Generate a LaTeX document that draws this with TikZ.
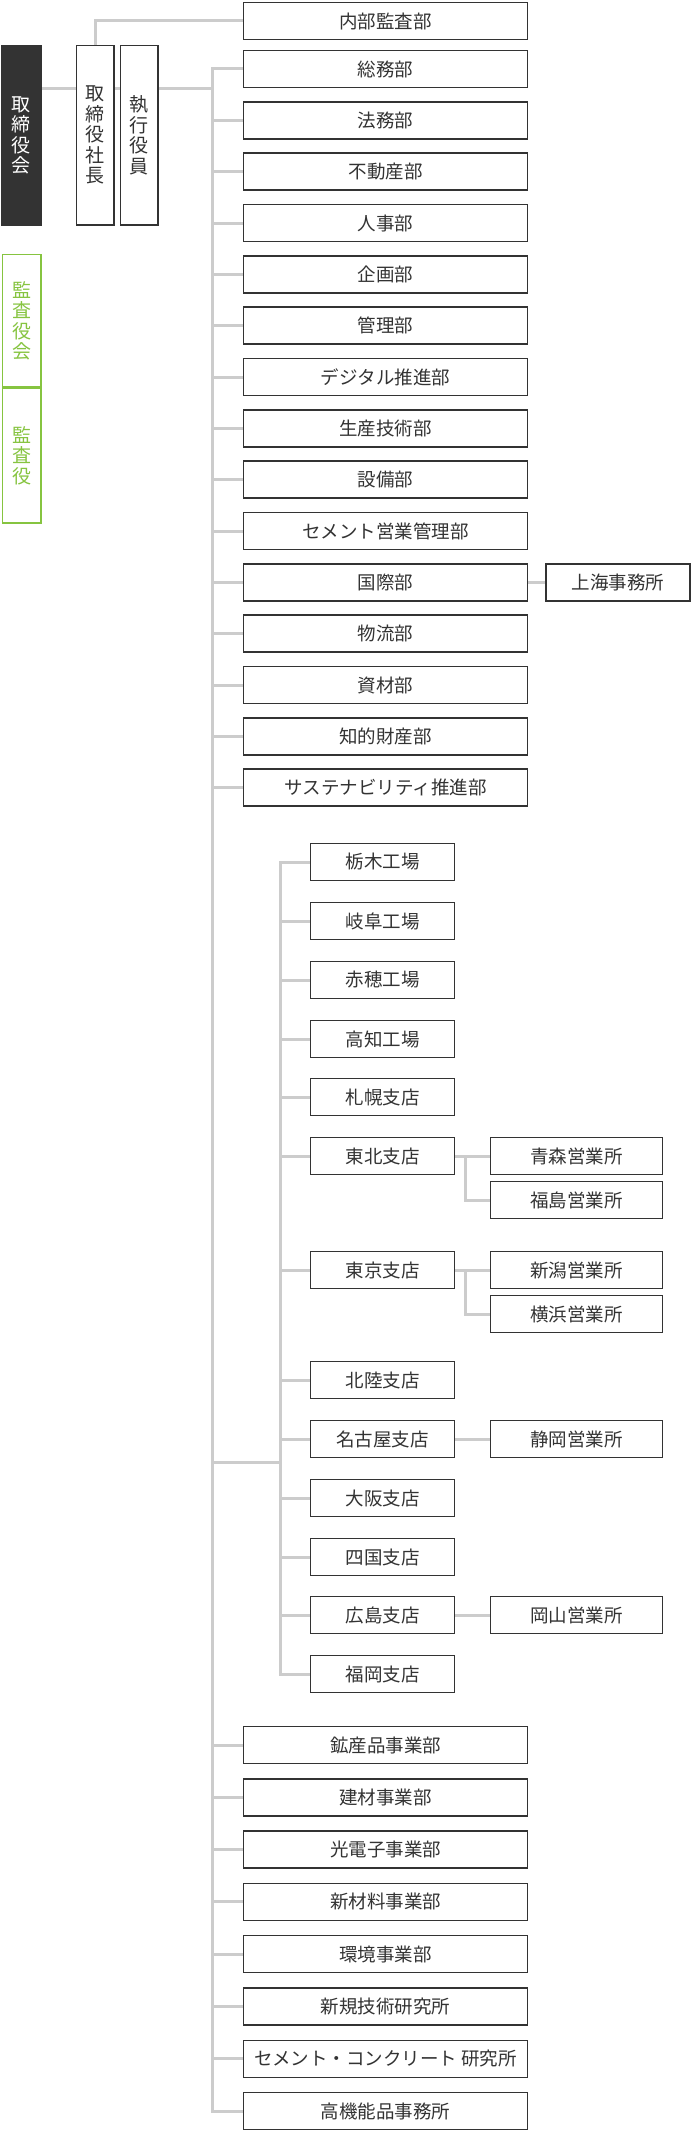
\documentclass[tikz,border=0pt]{standalone}
\usepackage{fontspec}
\setmainfont{Noto Sans CJK JP}
\usetikzlibrary{backgrounds}
\definecolor{ln}{HTML}{CCCCCC}
\definecolor{bd}{HTML}{333333}
\definecolor{gr}{HTML}{86C440}
\begin{document}
\begin{tikzpicture}[x=1pt,y=-1pt,
  box/.style={draw=bd,line width=1.5pt,fill=white,text=bd,inner sep=0pt,anchor=north west,
    font=\fontsize{18.5}{20}\selectfont},
  mbox/.style={box,minimum width=284pt,minimum height=37pt},
  sbox/.style={box,minimum width=144pt,minimum height=37pt},
  obox/.style={box,minimum width=172pt,minimum height=37pt},
  vbox/.style={box,align=center,minimum width=37.5pt,font=\fontsize{19}{20.5}\selectfont},
  conn/.style={draw=ln,line width=3pt}]
\useasboundingbox (0,0) rectangle (695,2141);

% left column
\node[vbox,fill=bd,draw=bd,text=white,minimum width=39.5pt,minimum height=179.5pt] (board) at (0.75,44.75) {取\\締\\役\\会};
\node[vbox,draw=gr,text=gr,minimum width=38.5pt,minimum height=132.5pt] (kansakai) at (1.75,253.75) {監\\査\\役\\会};
\node[vbox,draw=gr,text=gr,minimum width=38.5pt,minimum height=134.5pt] (kansa) at (1.75,387.75) {監\\査\\役};
\node[vbox,minimum height=179.5pt] (ceo) at (75.75,44.75) {取\\締\\役\\社\\長};
\node[vbox,minimum height=179.5pt] (exec) at (119.75,44.75) {執\\行\\役\\員};

% main column
\node[mbox] (m0) at (242.75,1.75) {内部監査部};
\node[mbox] (m1) at (242.75,49.75) {総務部};
\node[mbox] (m2) at (242.75,101) {法務部};
\node[mbox] (m3) at (242.75,152.4) {不動産部};
\node[mbox] (m4) at (242.75,203.75) {人事部};
\node[mbox] (m5) at (242.75,255) {企画部};
\node[mbox] (m6) at (242.75,306.4) {管理部};
\node[mbox] (m7) at (242.75,357.75) {デジタル推進部};
\node[mbox] (m8) at (242.75,409) {生産技術部};
\node[mbox] (m9) at (242.75,460.4) {設備部};
\node[mbox] (m10) at (242.75,511.75) {セメント営業管理部};
\node[mbox] (m11) at (242.75,563) {国際部};
\node[mbox] (m12) at (242.75,614.4) {物流部};
\node[mbox] (m13) at (242.75,665.75) {資材部};
\node[mbox] (m14) at (242.75,717) {知的財産部};
\node[mbox] (m15) at (242.75,768.4) {サステナビリティ推進部};
\node[sbox] (sh) at (545.25,563) {上海事務所};

% branch column
\node[sbox] (b1) at (309.75,842.75) {栃木工場};
\node[sbox] (b2) at (309.75,901.75) {岐阜工場};
\node[sbox] (b3) at (309.75,960.75) {赤穂工場};
\node[sbox] (b4) at (309.75,1019.75) {高知工場};
\node[sbox] (b5) at (309.75,1077.75) {札幌支店};
\node[sbox] (b6) at (309.75,1136.75) {東北支店};
\node[sbox] (b7) at (309.75,1250.75) {東京支店};
\node[sbox] (b8) at (309.75,1360.75) {北陸支店};
\node[sbox] (b9) at (309.75,1419.75) {名古屋支店};
\node[sbox] (b10) at (309.75,1478.75) {大阪支店};
\node[sbox] (b11) at (309.75,1537.75) {四国支店};
\node[sbox] (b12) at (309.75,1595.75) {広島支店};
\node[sbox] (b13) at (309.75,1654.75) {福岡支店};

% offices
\node[obox] (o1) at (489.75,1136.75) {青森営業所};
\node[obox] (o2) at (489.75,1180.75) {福島営業所};
\node[obox] (o3) at (489.75,1250.75) {新潟営業所};
\node[obox] (o4) at (489.75,1294.75) {横浜営業所};
\node[obox] (o5) at (489.75,1419.75) {静岡営業所};
\node[obox] (o6) at (489.75,1595.75) {岡山営業所};

% bottom group
\node[mbox] (d1) at (242.75,1725.75) {鉱産品事業部};
\node[mbox] (d2) at (242.75,1778) {建材事業部};
\node[mbox] (d3) at (242.75,1830.3) {光電子事業部};
\node[mbox] (d4) at (242.75,1882.6) {新材料事業部};
\node[mbox] (d5) at (242.75,1934.9) {環境事業部};
\node[mbox] (d6) at (242.75,1987.2) {新規技術研究所};
\node[mbox] (d7) at (242.75,2039.5) {セメント・コンクリート\hspace{4pt}研究所};
\node[mbox] (d8) at (242.75,2091.8) {高機能品事務所};

\coordinate (tx) at (212,0);
\coordinate (sx) at (280,0);
\coordinate (ox) at (465,0);
\coordinate (hy) at (0,88);
\coordinate (jy) at (0,1462);

\begin{scope}[on background layer]
  \draw[conn] (ceo.north) |- (m0.west);
  \draw[conn] (board.east |- hy) -- (ceo.west |- hy);
  \draw[conn] (ceo.east |- hy) -- (exec.west |- hy);
  \draw[conn] (exec.east |- hy) -- (hy -| tx);
  \draw[conn] (m1.west) -| (d8.west -| tx) -- (d8.west);
  \foreach \n in {m2,m3,m4,m5,m6,m7,m8,m9,m10,m11,m12,m13,m14,m15,d1,d2,d3,d4,d5,d6,d7}
    \draw[conn] (\n.west) -- (\n.west -| tx);
  \draw[conn] (m11.east) -- (sh.west);
  \draw[conn] (jy -| tx) -- (jy -| sx);
  \draw[conn] (b1.west) -| (b13.west -| sx) -- (b13.west);
  \foreach \n in {b2,b3,b4,b5,b6,b7,b8,b9,b10,b11,b12}
    \draw[conn] (\n.west) -- (\n.west -| sx);
  \draw[conn] (b6.east) -- (o1.west);
  \draw[conn] (b6.east -| ox) |- (o2.west);
  \draw[conn] (b7.east) -- (o3.west);
  \draw[conn] (b7.east -| ox) |- (o4.west);
  \draw[conn] (b9.east) -- (o5.west);
  \draw[conn] (b12.east) -- (o6.west);
\end{scope}
\end{tikzpicture}
\end{document}
